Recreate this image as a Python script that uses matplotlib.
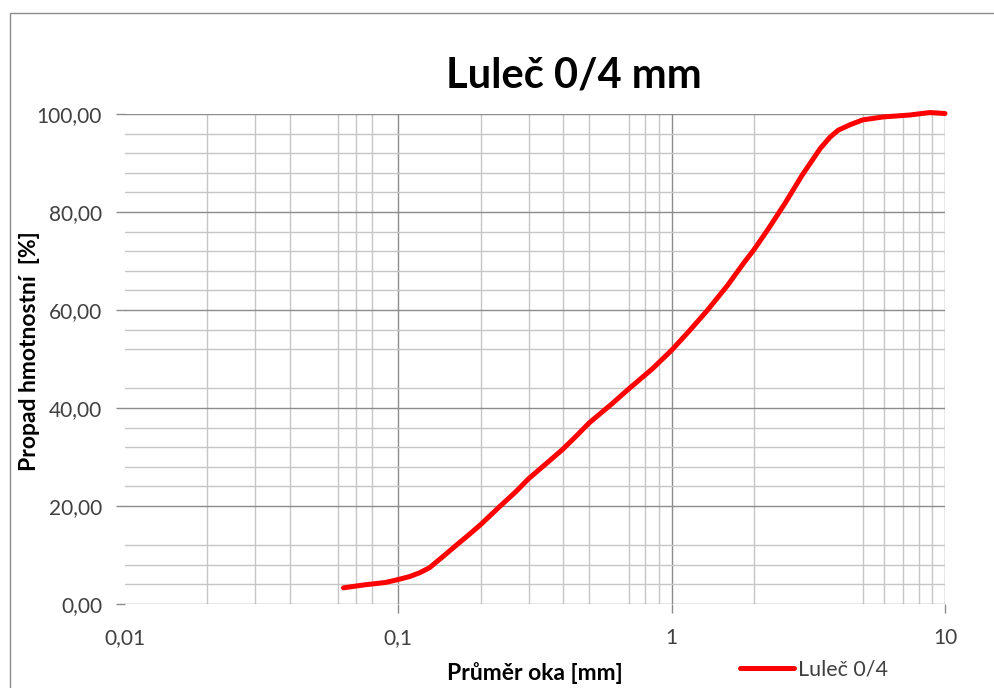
import numpy as np
import matplotlib.pyplot as plt
from matplotlib.ticker import FixedLocator, FuncFormatter, NullFormatter
from matplotlib.patches import Rectangle

plt.rcParams['font.family'] = ['Lato', 'DejaVu Sans']

# sieve analysis, Luleč 0/4
mesh_mm = [0.063, 0.075, 0.09, 0.1, 0.11, 0.12, 0.13, 0.145, 0.163, 0.18,
           0.2, 0.235, 0.27, 0.3, 0.35, 0.4, 0.45, 0.5, 0.6, 0.7,
           0.85, 1.0, 1.15, 1.34, 1.6, 1.83, 2.0, 2.26, 2.6, 3.0,
           3.5, 3.8, 4.07, 4.49, 5.0, 5.94, 7.45, 8.8, 10.0]
passing_pct = [3.3, 3.9, 4.4, 5.0, 5.6, 6.4, 7.4, 9.6, 12.0, 14.0,
               16.2, 19.9, 23.0, 25.6, 28.8, 31.6, 34.4, 37.0, 40.7, 44.0,
               48.0, 51.8, 55.5, 59.7, 65.0, 69.5, 72.3, 76.6, 81.8, 87.5,
               93.0, 95.3, 96.7, 97.8, 98.8, 99.4, 99.8, 100.3, 100.1]

x_major = [0.01, 0.1, 1, 10]
x_labels = ['0,01', '0,1', '1', '10']
x_minor = [0.02, 0.03, 0.04, 0.06, 0.07, 0.08,
           0.2, 0.3, 0.4, 0.5, 0.7, 0.8, 0.9,
           2, 5, 6, 7, 8, 9]
y_major = [0, 20, 40, 60, 80, 100]
y_minor = [4, 8, 12, 24, 28, 32, 36, 44, 52, 56, 64, 68, 72, 76, 84, 88, 92, 96]

major_col = '#8c8c8c'
minor_col = '#c6c6c6'
text_col = '#404040'

fig = plt.figure(figsize=(9.95, 6.88), dpi=100)
ax = fig.add_axes([125/995, 1-604/688, 820/995, 490/688])

# outer chart frame
fig.patches.append(Rectangle((10/995, -0.1), 1.2, 1.1-13/688, transform=fig.transFigure,
                             fill=False, edgecolor='#8a8a8a', linewidth=1.0))

ax.plot(mesh_mm, passing_pct, color='#ff0000', linewidth=3.6, label='Luleč 0/4',
        solid_capstyle='round', solid_joinstyle='round', clip_on=False, zorder=5)

ax.set_xscale('log')
ax.set_xlim(0.01, 10)
ax.set_ylim(0, 100)

ax.xaxis.set_major_locator(FixedLocator(x_major))
ax.set_xticklabels(x_labels)
ax.xaxis.set_minor_locator(FixedLocator(x_minor))
ax.xaxis.set_minor_formatter(NullFormatter())
ax.yaxis.set_major_locator(FixedLocator(y_major))
ax.yaxis.set_major_formatter(FuncFormatter(lambda v, p: f'{v:.2f}'.replace('.', ',')))
ax.yaxis.set_minor_locator(FixedLocator(y_minor))

ax.grid(which='major', color=major_col, linewidth=1.0)
ax.grid(which='minor', color=minor_col, linewidth=1.0)
ax.set_axisbelow(True)

for s in ax.spines.values():
    s.set_visible(False)

ax.tick_params(which='major', length=6.5, width=1.0, color=major_col,
               labelsize=15, labelcolor=text_col)
ax.tick_params(axis='x', which='major', pad=11)
ax.tick_params(axis='y', which='major', pad=10)
ax.tick_params(which='minor', length=0)

# no tick or gridline at the 0,01 edge
first = ax.xaxis.get_major_ticks()[0]
first.tick1line.set_visible(False)
first.gridline.set_visible(False)

fig.text(574/995, 1-75/688, 'Luleč 0/4 mm', ha='center', va='center',
         fontsize=30, fontweight='bold', color='black')
fig.text(30/995, 1-351/688, 'Propad hmotnostní  [%]', rotation=90, ha='center',
         va='center', fontsize=16.5, fontweight='bold', color='black')
fig.text(535/995, 1-673/688, 'Průměr oka [mm]', ha='center', va='center',
         fontsize=16.5, fontweight='bold', color='black')

fig.legend(loc='center left', bbox_to_anchor=(740/995, 1-670/688),
           bbox_transform=fig.transFigure, frameon=False, fontsize=15.5,
           handlelength=2.5, handletextpad=0.2, borderpad=0, borderaxespad=0,
           labelcolor=text_col)

fig.savefig('out.png', dpi=100)
